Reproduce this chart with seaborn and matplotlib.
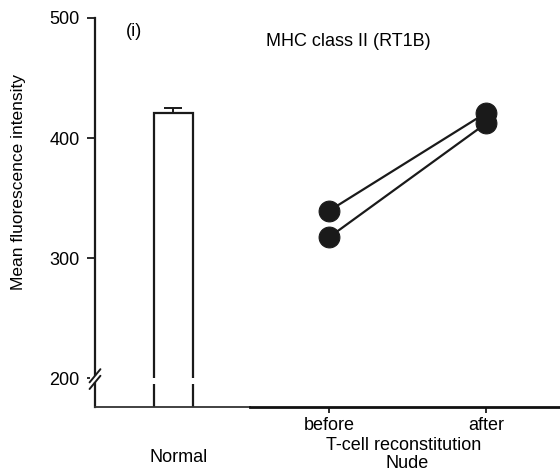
import numpy as np
import pandas as pd
import seaborn as sns
import matplotlib
matplotlib.use("Agg")
import matplotlib.pyplot as plt
from matplotlib.patches import Rectangle
import matplotlib.transforms as mtransforms

# ---- data ----
normal_group = ["Normal"]
normal_mean = [420.8]
normal_err = [4.2]

nude_stage = ["before", "after"]
rat_ids = ["rat1", "rat2"]
rat1_values = [339.4, 421.1]
rat2_values = [317.3, 412.3]

yticks = [200, 300, 400, 500]

sns.set_style("white")
plt.rcParams["font.family"] = ["Liberation Sans", "DejaVu Sans"]
plt.rcParams["text.color"] = "black"
plt.rcParams["xtick.color"] = "black"
plt.rcParams["ytick.color"] = "black"
plt.rcParams["axes.labelcolor"] = "black"
FS = 13

fig = plt.figure(figsize=(5.6, 4.72), dpi=100)
W, H = 560.0, 472.0
bottom = 1 - 407 / H
height = (407 - 18) / H
ax1 = fig.add_axes([95 / W, bottom, 155 / W, height])
ax2 = fig.add_axes([250 / W, bottom, 310 / W, height])

YMIN, YMAX = 176, 500

# ---- Normal bar ----
df_norm = pd.DataFrame({"group": normal_group, "mfi": normal_mean})
sns.barplot(data=df_norm, x="group", y="mfi", ax=ax1, color="white",
            edgecolor="#1a1a1a", linewidth=1.6, width=0.8, errorbar=None,
            saturation=1)
ax1.errorbar([0], normal_mean, yerr=[[0], normal_err], fmt="none",
             ecolor="#1a1a1a", elinewidth=1.4, capsize=6.5, capthick=1.4, zorder=4)
# break gap in bar
ax1.fill_between([-0.5, 0.5], 195, 200.3, color="white", zorder=5, linewidth=0)

ax1.set_xlim(-1.61, 1.57)
ax1.set_ylim(YMIN, YMAX)
ax1.set_yticks(yticks)
ax1.set_yticklabels([str(t) for t in yticks], fontsize=FS)
ax1.set_xticks([])
ax1.set_xlabel("")
ax1.set_ylabel("")
for s in ["top", "right"]:
    ax1.spines[s].set_visible(False)
ax1.spines["left"].set_color("#1a1a1a")
ax1.spines["left"].set_linewidth(1.6)
ax1.spines["bottom"].set_color("#333333")
ax1.spines["bottom"].set_linewidth(1.3)
ax1.tick_params(axis="y", direction="out", length=6, width=1.3,
                color="#1a1a1a", pad=5, left=True, labelsize=FS, labelcolor="black")

# y-axis break marks
tb = mtransforms.blended_transform_factory(ax1.transAxes, ax1.transData)
ax1.add_patch(Rectangle((-0.03, 196.5), 0.06, 5.5, transform=tb,
                        facecolor="white", edgecolor="none", zorder=6, clip_on=False))
for c in (196.5, 202.0):
    ax1.plot([-0.035, 0.035], [c - 5.5, c + 5.5], transform=tb, color="#1a1a1a",
             lw=1.4, clip_on=False, zorder=7)

# ---- Nude paired points ----
df_nude = pd.DataFrame({
    "stage": nude_stage * 2,
    "rat": [rat_ids[0]] * 2 + [rat_ids[1]] * 2,
    "mfi": rat1_values + rat2_values,
})
sns.lineplot(data=df_nude, x="stage", y="mfi", units="rat", estimator=None,
             ax=ax2, color="#1a1a1a", linewidth=1.6, marker="o", markersize=15,
             markeredgecolor="#1a1a1a", markerfacecolor="#1a1a1a", sort=False)

ax2.set_xlim(-0.503, 1.47)
ax2.set_ylim(YMIN, YMAX)
ax2.set_xticks([0, 1])
ax2.set_xticklabels(nude_stage, fontsize=FS)
ax2.set_yticks([])
ax2.set_xlabel("")
ax2.set_ylabel("")
for s in ["top", "right", "left"]:
    ax2.spines[s].set_visible(False)
ax2.spines["bottom"].set_color("#111111")
ax2.spines["bottom"].set_linewidth(2.0)
ax2.tick_params(axis="x", direction="out", length=4, width=1.3,
                color="#1a1a1a", pad=3, bottom=True, labelsize=FS, labelcolor="black")
ax2.patch.set_alpha(0)

# ---- texts ----
fig.text(134 / W, 1 - 32 / H, "(i)", fontsize=FS, ha="center", va="center")
fig.text(348 / W, 1 - 41 / H, "MHC class II (RT1B)", fontsize=FS, ha="center", va="center")
fig.text(19 / W, 1 - 182 / H, "Mean fluorescence intensity", fontsize=12.5,
         ha="center", va="center", rotation=90)
fig.text(179 / W, 1 - 458 / H, "Normal", fontsize=FS, ha="center", va="center")
fig.text(404 / W, 1 - 445 / H, "T-cell reconstitution", fontsize=FS, ha="center", va="center")
fig.text(407 / W, 1 - 464 / H, "Nude", fontsize=FS, ha="center", va="center")

fig.savefig("out.png", dpi=100)
